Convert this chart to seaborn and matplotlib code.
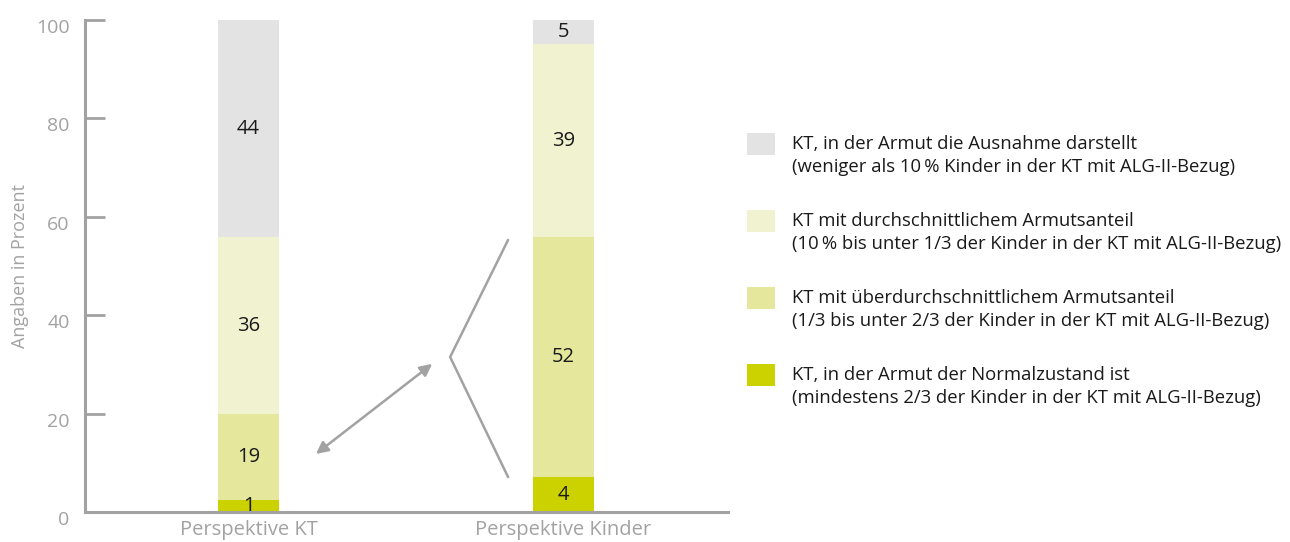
import numpy as np
import pandas as pd
import seaborn as sns
import matplotlib
matplotlib.use('Agg')
import matplotlib.pyplot as plt
from matplotlib.patches import Rectangle
from matplotlib.transforms import ScaledTranslation

# Daten (von unten nach oben)
perspektiven = ['Perspektive KT', 'Perspektive Kinder']
kategorien = ['normal', 'ueber', 'durchschnitt', 'ausnahme']
hoehen_kt = [2.4, 17.5, 35.9, 44.2]
hoehen_kinder = [7.1, 48.7, 39.3, 4.9]
werte_kt = [1, 19, 36, 44]
werte_kinder = [4, 52, 39, 5]
farben = ['#cbd200', '#e4e79c', '#f1f3d0', '#e2e3e2']
legende_texte = [
    'KT, in der Armut die Ausnahme darstellt\n(weniger als 10\u2009% Kinder in der KT mit ALG-II-Bezug)',
    'KT mit durchschnittlichem Armutsanteil\n(10\u2009% bis unter 1/3 der Kinder in der KT mit ALG-II-Bezug)',
    'KT mit überdurchschnittlichem Armutsanteil\n(1/3 bis unter 2/3 der Kinder in der KT mit ALG-II-Bezug)',
    'KT, in der Armut der Normalzustand ist\n(mindestens 2/3 der Kinder in der KT mit ALG-II-Bezug)',
]
legende_farben = ['#e2e3e2', '#f1f3d0', '#e4e79c', '#cbd200']

sns.set_style('white')
plt.rcParams['font.family'] = ['Open Sans', 'DejaVu Sans']

grau = '#a2a2a2'

df = pd.DataFrame({
    'perspektive': np.repeat(perspektiven, len(kategorien)),
    'kategorie': kategorien * 2,
    'hoehe': hoehen_kt + hoehen_kinder,
    'wert': werte_kt + werte_kinder,
})
df['oben'] = df.groupby('perspektive', sort=False)['hoehe'].cumsum()
df['mitte'] = df['oben'] - df['hoehe'] / 2

fig = plt.figure(figsize=(12.9, 5.42), dpi=100)
ax = fig.add_axes([85 / 1290, 30 / 542, (728 - 85) / 1290, 492 / 542])

# gestapelte Balken: von oben nach unten übermalen
for kat, farbe in reversed(list(zip(kategorien, farben))):
    sub = df[df['kategorie'] == kat]
    sns.barplot(data=sub, x='perspektive', y='oben', order=perspektiven,
                color=farbe, saturation=1, width=0.194, errorbar=None,
                linewidth=0, ax=ax)

for _, r in df.iterrows():
    xi = perspektiven.index(r['perspektive'])
    ax.text(xi, r['mitte'], str(r['wert']), ha='center', va='center',
            fontsize=14.5, color='#1a1a1a')

ax.set_xlim(-0.519, 1.522)
ax.set_ylim(0, 100)
ax.set_yticks(range(0, 101, 20))
ax.set_xlabel('')
ax.set_ylabel('Angaben in Prozent', color=grau, fontsize=13, labelpad=5)
ax.tick_params(axis='y', left=True, direction='in', length=14.4, width=2,
               color=grau, labelcolor=grau, labelsize=14, pad=11)
ax.tick_params(axis='x', bottom=False, length=0, labelcolor=grau,
               labelsize=14.5, pad=6)
for lab in ax.get_yticklabels():
    lab.set_transform(lab.get_transform() + ScaledTranslation(0, -0.06, fig.dpi_scale_trans))

sns.despine(ax=ax)
for s in ['left', 'bottom']:
    ax.spines[s].set_color(grau)
    ax.spines[s].set_linewidth(2.2)

# Klammer und Doppelpfeil
ax.plot([0.824, 0.640, 0.824], [55.3, 31.5, 7.1], color=grau, lw=1.8,
        solid_joinstyle='miter', clip_on=False)
ax.annotate('', xy=(0.214, 11.8), xytext=(0.583, 30.1),
            arrowprops=dict(arrowstyle='<|-|>', color=grau, lw=1.8,
                            mutation_scale=18, shrinkA=0, shrinkB=0))

# Legende
for i, (txt, farbe) in enumerate(zip(legende_texte, legende_farben)):
    y1 = 144 + i * 77
    fig.patches.append(Rectangle((747 / 1290, 1 - (y1 + 11) / 542), 28 / 1290, 22 / 542,
                                 transform=fig.transFigure, facecolor=farbe,
                                 edgecolor='none'))
    for j, zeile in enumerate(txt.split('\n')):
        fig.text(792 / 1290, 1 - (y1 + 23 * j) / 542, zeile, ha='left', va='center',
                 fontsize=13.3, color='#1a1a1a')

fig.savefig('out.png', dpi=100)
